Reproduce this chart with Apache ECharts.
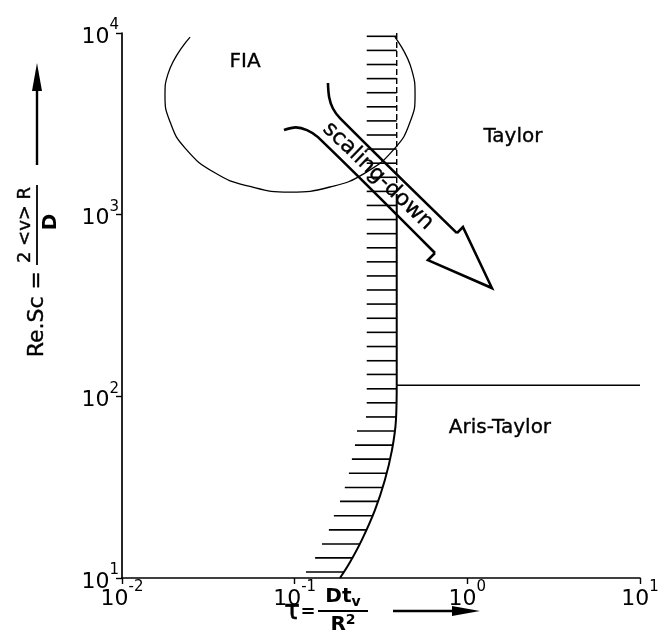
<!DOCTYPE html>
<html><head><meta charset="utf-8">
<script src="https://cdn.jsdelivr.net/npm/echarts@6/dist/echarts.min.js"></script>
<style>html,body{margin:0;padding:0;background:#fff}#c{width:665px;height:636px}</style>
</head><body><div id="c"></div>
<script>
// ---- data (tau = D t_v / R^2 on x, Re.Sc on y) ----
const xTickExponents = [-2, -1, 0, 1];
const yTickExponents = [1, 2, 3, 4];

const boundaryDashed = [[0.39, 10000], [0.39, 1300]];
const boundaryVertical = [[0.39, 1300], [0.39, 115]];
const boundaryCurve = [[0.39, 115], [0.386, 74], [0.366, 50.6], [0.333, 34.6], [0.292, 23.7], [0.245, 16.2], [0.209, 12.2], [0.183, 10]];
const taylorLimit = [[0.39, 115], [10, 115]];

const fiaOutline = [[0.0248, 9490], [0.01845, 5940], [0.01774, 4550], [0.0190, 3235], [0.0232, 2326], [0.0345, 1700], [0.0551, 1430], [0.094, 1332], [0.160, 1420], [0.255, 1694], [0.381, 2326], [0.466, 3235], [0.498, 4550], [0.477, 6250], [0.381, 9490]];

const hatchRe  = [10.8, 12.9, 15.4, 18.4, 22.0, 26.4, 31.5, 37.7, 45.1, 53.9, 64.4, 77.0, 92.1, 110, 132, 157, 188, 225, 269, 322, 385, 460, 550, 657, 786, 940, 1124, 1343, 1606, 1920, 2296, 2745, 3282, 3924, 4692, 5610, 6708, 8020, 9590];
const hatchTau = [0.193, 0.218, 0.239, 0.262, 0.280, 0.304, 0.324, 0.342, 0.356, 0.371, 0.381, 0.386, 0.39, 0.39, 0.39, 0.39, 0.39, 0.39, 0.39, 0.39, 0.39, 0.39, 0.39, 0.39, 0.39, 0.39, 0.39, 0.39, 0.39, 0.39, 0.39, 0.39, 0.39, 0.39, 0.39, 0.39, 0.39, 0.39, 0.39];

const arrowUpperArm = [[0.1559, 5301], [0.1585, 4420], [0.1666, 3840], [0.1829, 3401], [0.8705, 792]];
const arrowHead = [[0.8705, 792], [0.943, 855], [1.388, 394.5], [0.5912, 562], [0.6494, 615]];
const arrowLowerArm = [[0.6494, 615], [0.1364, 2674], [0.1178, 2922], [0.1017, 3025], [0.0867, 2922]];

const regionNames = ['FIA', 'Taylor', 'Aris-Taylor', 'scaling-down'];
const regionPos = [[0.0516, 6917], [1.837, 2674], [1.545, 66.9], [0.3035, 1631]];
const regionRotate = [0, 0, 0, -44];

// ---- chart ----
const FONT = 'DejaVu Sans';
const chart = echarts.init(document.getElementById('c'), null, {renderer: 'canvas'});
const supRich = {
  b: {fontFamily: FONT, fontSize: 22, color: '#000', lineHeight: 30, verticalAlign: 'bottom'},
  s: {fontFamily: FONT, fontSize: 15, color: '#000', lineHeight: 17, verticalAlign: 'top'}
};
function expLabel(list) {
  return function (v) {
    const e = Math.round(Math.log10(v));
    if (list.indexOf(e) < 0) return '';
    return '{b|10}{s|' + (e < 0 ? '-' + (-e) : e) + '}';
  };
}
function lineSeries(data, width, opts) {
  return Object.assign({
    type: 'line', data: data, symbol: 'none', silent: true, clip: true,
    lineStyle: {color: '#000', width: width}
  }, opts || {});
}

chart.setOption({
  animation: false,
  backgroundColor: '#fff',
  grid: {left: 122, right: 25, top: 33, bottom: 58, containLabel: false},
  xAxis: {
    type: 'log', logBase: 10, min: 0.01, max: 10,
    axisLine: {show: true, lineStyle: {color: '#000', width: 1.7}},
    axisTick: {show: true, length: 6, lineStyle: {color: '#000', width: 1.4}},
    minorTick: {show: false}, splitLine: {show: false},
    axisLabel: {formatter: expLabel(xTickExponents), rich: supRich, margin: 2, fontSize: 22, fontFamily: FONT, color: '#000'}
  },
  yAxis: {
    type: 'log', logBase: 10, min: 10, max: 10000,
    axisLine: {show: true, lineStyle: {color: '#000', width: 1.7}},
    axisTick: {show: true, length: 6, lineStyle: {color: '#000', width: 1.4}},
    minorTick: {show: false}, splitLine: {show: false},
    axisLabel: {formatter: expLabel(yTickExponents), rich: supRich, margin: 3, fontSize: 22, fontFamily: FONT, color: '#000'}
  },
  series: [
    lineSeries(boundaryDashed, 1.4, {lineStyle: {color: '#000', width: 1.4, type: [6, 3]}}),
    lineSeries(boundaryVertical, 2),
    lineSeries(boundaryCurve, 2, {smooth: 0.4}),
    lineSeries(taylorLimit, 1.5),
    lineSeries(fiaOutline, 1.3, {smooth: 0.5}),
    lineSeries(arrowUpperArm, 2.6, {smooth: 0.35}),
    lineSeries(arrowHead, 2.6, {lineStyle: {color: '#000', width: 2.6, join: 'miter'}}),
    lineSeries(arrowLowerArm, 2.6, {smooth: 0.35}),
    {
      type: 'custom', silent: true, clip: true,
      data: hatchRe.map(function (r, i) { return [hatchTau[i], r]; }),
      renderItem: function (params, api) {
        const p = api.coord([api.value(0), api.value(1)]);
        const len = api.value(0) < 0.385 ? 38 : 30;
        return {type: 'line', shape: {x1: p[0] - len, y1: p[1], x2: p[0], y2: p[1]},
                style: {stroke: '#000', lineWidth: 1.6}};
      }
    },
    {
      type: 'custom', silent: true, clip: false,
      data: regionPos.map(function (p, i) { return [p[0], p[1], regionRotate[i]]; }),
      renderItem: function (params, api) {
        const p = api.coord([api.value(0), api.value(1)]);
        const big = params.dataIndex === 3;
        return {type: 'text', x: p[0], y: p[1], rotation: api.value(2) * Math.PI / 180,
                style: {text: regionNames[params.dataIndex], fill: '#000', stroke: '#000', lineWidth: 0.35,
                        fontFamily: FONT, fontSize: big ? 22 : 20, align: 'center', verticalAlign: 'middle'}};
      }
    }
  ],
  graphic: [
    // y-axis title (rotated, reads bottom to top)
    {
      type: 'group', x: 37, y: 225, rotation: Math.PI / 2, silent: true,
      children: [
        {type: 'text', x: -46, y: 0, style: {text: 'Re.Sc =', fontFamily: FONT, fontSize: 22, fill: '#000', stroke: '#000', lineWidth: 0.4, align: 'right', verticalAlign: 'middle'}},
        {type: 'line', shape: {x1: -40, y1: 0, x2: 40, y2: 0}, style: {stroke: '#000', lineWidth: 1.8}},
        {type: 'text', x: 0, y: -3, style: {text: '2 <v> R', fontFamily: FONT, fontSize: 18, fill: '#000', stroke: '#000', lineWidth: 0.4, align: 'center', verticalAlign: 'bottom'}},
        {type: 'text', x: 3, y: 4, style: {text: 'D', fontFamily: FONT, fontSize: 20, fontWeight: 'bold', fill: '#000', align: 'center', verticalAlign: 'top'}},
        {type: 'line', shape: {x1: 60, y1: 0, x2: 138, y2: 0}, style: {stroke: '#000', lineWidth: 2.4}},
        {type: 'polygon', shape: {points: [[162, 0], [134, -5], [134, 5]]}, style: {fill: '#000'}}
      ]
    },
    // x-axis title
    {
      type: 'group', x: 0, y: 0, silent: true,
      children: [
        {type: 'text', x: 292, y: 612, style: {text: 'τ', fontFamily: FONT, fontSize: 26, fill: '#000', stroke: '#000', lineWidth: 0.6, align: 'center', verticalAlign: 'middle'}},
        {type: 'text', x: 308, y: 612, style: {text: '=', fontFamily: FONT, fontSize: 18, fontWeight: 'bold', fill: '#000', align: 'center', verticalAlign: 'middle'}},
        {type: 'line', shape: {x1: 318, y1: 611, x2: 368, y2: 611}, style: {stroke: '#000', lineWidth: 1.8}},
        {type: 'text', x: 343, y: 609, style: {text: '{a|Dt}{v|v}', fontFamily: FONT, fill: '#000', align: 'center', verticalAlign: 'bottom',
          rich: {a: {fontFamily: FONT, fontSize: 20, fontWeight: 'bold', lineHeight: 22, verticalAlign: 'top'}, v: {fontFamily: FONT, fontSize: 14, fontWeight: 'bold', lineHeight: 16, verticalAlign: 'bottom'}}}},
        {type: 'text', x: 343, y: 613, style: {text: '{a|R}{s|2}', fontFamily: FONT, fill: '#000', align: 'center', verticalAlign: 'top',
          rich: {a: {fontFamily: FONT, fontSize: 20, fontWeight: 'bold', lineHeight: 22, verticalAlign: 'bottom'}, s: {fontFamily: FONT, fontSize: 14, fontWeight: 'bold', lineHeight: 14, verticalAlign: 'top'}}}},
        {type: 'line', shape: {x1: 393, y1: 611, x2: 456, y2: 611}, style: {stroke: '#000', lineWidth: 2.4}},
        {type: 'polygon', shape: {points: [[480, 611], [452, 606], [452, 616]]}, style: {fill: '#000'}}
      ]
    }
  ]
});
</script>
</body></html>
